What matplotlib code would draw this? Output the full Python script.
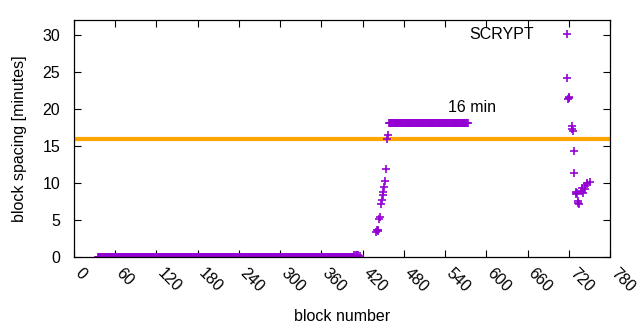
import numpy as np
import matplotlib
matplotlib.use("Agg")
import matplotlib.pyplot as plt

plt.rcParams["font.family"] = ["Liberation Sans", "DejaVu Sans"]

# runs of equal spacing: (first block, last block, minutes)
flat_runs = [(35, 407, 0.0), (459, 573, 18.1)]

blocks = [408, 410, 412, 414, 416,
          440, 441, 442, 443, 444, 445, 447, 448, 449, 450, 451, 453, 454, 456, 457,
          717, 719, 720, 721, 724, 725, 726, 727, 728, 730, 731, 732, 733, 734, 735,
          738, 740, 741, 743, 744, 746, 747, 751]
minutes = [0.25, 0.25, 0.3, 0.3, 0.2,
           3.4, 3.6, 3.5, 3.7, 5.1, 5.4, 7.2, 7.7, 8.4, 8.8, 9.5, 10.3, 11.9, 15.9, 16.5,
           24.2, 21.3, 21.6, 21.5, 17.7, 17.3, 17.0, 14.3, 11.4, 8.8, 8.5, 8.6, 7.3, 7.6, 7.2,
           8.9, 9.3, 8.7, 9.6, 9.2, 10.0, 9.8, 10.1]

target = 16
xticks = list(range(0, 781, 60))
yticks = list(range(0, 31, 5))

x = list(blocks)
y = list(minutes)
for a, b, v in flat_runs:
    for n in range(a, b + 1):
        x.append(n)
        y.append(v)

fig = plt.figure(figsize=(6.4, 3.3), dpi=100)
ax = fig.add_axes([0.1156, 0.2212, 0.8375, 0.7182])

ax.axhline(target, color="#FFA500", lw=3, zorder=1)
ax.plot(x, y, "+", color="#9400D3", ms=5.2, mew=1.2, ls="none", zorder=2, label="SCRYPT")
ax.text(544, 20.2, "16 min", fontsize=11.5, va="center", ha="left")

ax.set_xlim(0, 780)
ax.set_ylim(0, 32)
ax.set_xticks(xticks)
ax.set_xticklabels([str(t) for t in xticks], rotation=-45, ha="left", va="baseline",
                   rotation_mode="anchor")
ax.set_yticks(yticks)
ax.tick_params(direction="in", length=5, width=0.8, top=True, right=True, labelsize=11.5)
ax.tick_params(axis="x", pad=12)
ax.tick_params(axis="y", pad=10)
for s in ax.spines.values():
    s.set_linewidth(0.9)

ax.set_xlabel("block number", fontsize=11.5, labelpad=10)
ax.set_ylabel("block spacing [minutes]", fontsize=11.5, labelpad=11)

ax.legend(loc="upper right", bbox_to_anchor=(0.950, 0.970), frameon=False, markerfirst=False,
          handlelength=2, handletextpad=1.1, borderpad=0, borderaxespad=0, fontsize=11.5,
          numpoints=1)

fig.savefig("out.png", dpi=100)
